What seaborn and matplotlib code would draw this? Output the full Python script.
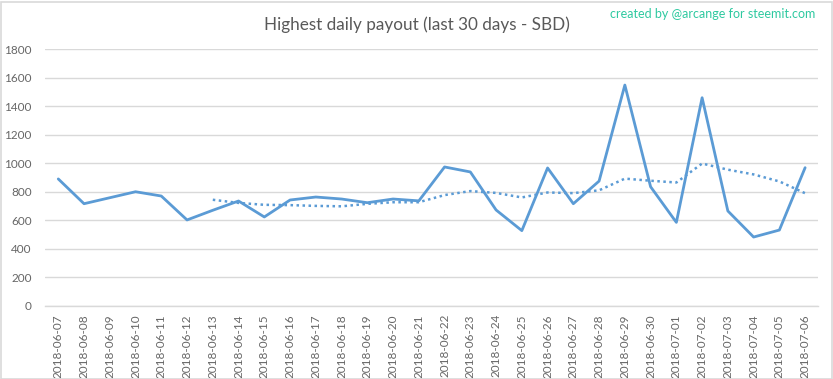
import matplotlib
matplotlib.use("Agg")
import matplotlib.pyplot as plt
import seaborn as sns
import pandas as pd
from matplotlib.patches import Rectangle

dates = ["2018-06-07", "2018-06-08", "2018-06-09", "2018-06-10", "2018-06-11",
         "2018-06-12", "2018-06-13", "2018-06-14", "2018-06-15", "2018-06-16",
         "2018-06-17", "2018-06-18", "2018-06-19", "2018-06-20", "2018-06-21",
         "2018-06-22", "2018-06-23", "2018-06-24", "2018-06-25", "2018-06-26",
         "2018-06-27", "2018-06-28", "2018-06-29", "2018-06-30", "2018-07-01",
         "2018-07-02", "2018-07-03", "2018-07-04", "2018-07-05", "2018-07-06"]
payout = [890, 716, 758, 800, 770, 602, 670, 735, 623, 742,
          763, 749, 723, 749, 736, 974, 939, 672, 527, 967,
          716, 875, 1549, 835, 585, 1460, 665, 482, 531, 969]
yticks = [0, 200, 400, 600, 800, 1000, 1200, 1400, 1600, 1800]

df = pd.DataFrame({"date": dates, "payout": payout})
df["x"] = range(len(df))
df["ma"] = df["payout"].rolling(7).mean()

sns.set_theme(style="white")
plt.rcParams["font.family"] = ["Lato", "DejaVu Sans"]

fig = plt.figure(figsize=(8.33, 3.79), dpi=100)
ax = fig.add_axes([45.4 / 833, 1 - 305.7 / 379, (818 - 45.4) / 833, (305.7 - 49.3) / 379])

color = "#5B9BD5"
sns.lineplot(data=df, x="x", y="payout", ax=ax, color=color, linewidth=2.0)
sns.lineplot(data=df.dropna(), x="x", y="ma", ax=ax, color=color, linewidth=1.8,
             linestyle=(0, (1, 1.4)))

ax.set_xlim(-0.5, len(dates) - 0.5)
ax.set_ylim(0, 1800)
ax.set_yticks(yticks)
ax.set_yticklabels([str(v) for v in yticks])
ax.set_xticks(df["x"])
ax.set_xticklabels(dates, rotation=90)
ax.set_xlabel("")
ax.set_ylabel("")
ax.yaxis.grid(True, color="#D9D9D9", linewidth=1)
ax.set_axisbelow(True)
for s in ["top", "right", "left"]:
    ax.spines[s].set_visible(False)
ax.spines["bottom"].set_color("#D9D9D9")
ax.spines["bottom"].set_linewidth(1)
ax.tick_params(axis="both", length=0, labelsize=8.5, labelcolor="#666666")
ax.tick_params(axis="x", pad=6)
ax.tick_params(axis="y", pad=10)

fig.text(0.5, 1 - 25 / 379, "Highest daily payout (last 30 days - SBD)", ha="center", va="center",
         fontsize=12.3, color="#595959")
fig.text(815 / 833, 1 - 14 / 379, "created by @arcange for steemit.com", ha="right", va="center",
         fontsize=9, color="#2EC9A0")

fig.patches.append(Rectangle((0.5 / 833, 0.5 / 379), 831 / 833, 377 / 379, transform=fig.transFigure,
                             fill=False, edgecolor="#D9D9D9", linewidth=1.2))

fig.savefig("out.png", dpi=100)
